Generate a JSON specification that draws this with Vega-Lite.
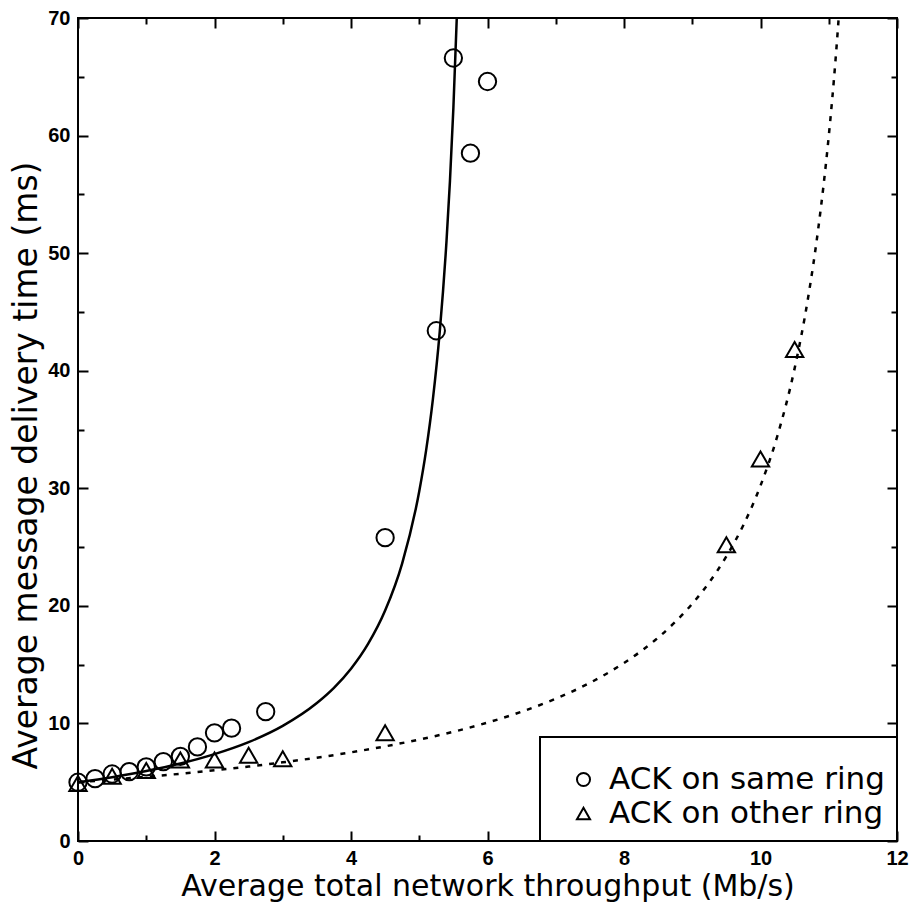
{
  "$schema": "https://vega.github.io/schema/vega-lite/v6.json",
  "width": 819,
  "height": 823,
  "autosize": {"type": "none"},
  "padding": {"left": 78, "top": 18, "right": 15, "bottom": 66},
  "background": "white",
  "config": {
    "view": {"stroke": "black", "strokeWidth": 2},
    "axis": {"grid": false, "domain": false, "tickColor": "black", "tickWidth": 2, "labelColor": "black", "titleColor": "black"},
    "legend": {"strokeWidth": 2}
  },
  "datasets": {
    "points": [
      {"x": 0, "y": 5.0, "series": "ACK on same ring"},
      {"x": 0.25, "y": 5.3, "series": "ACK on same ring"},
      {"x": 0.5, "y": 5.7, "series": "ACK on same ring"},
      {"x": 0.75, "y": 5.9, "series": "ACK on same ring"},
      {"x": 1.0, "y": 6.3, "series": "ACK on same ring"},
      {"x": 1.25, "y": 6.75, "series": "ACK on same ring"},
      {"x": 1.5, "y": 7.2, "series": "ACK on same ring"},
      {"x": 1.75, "y": 8.0, "series": "ACK on same ring"},
      {"x": 2.0, "y": 9.2, "series": "ACK on same ring"},
      {"x": 2.25, "y": 9.6, "series": "ACK on same ring"},
      {"x": 2.75, "y": 11.0, "series": "ACK on same ring"},
      {"x": 4.5, "y": 25.8, "series": "ACK on same ring"},
      {"x": 5.25, "y": 43.4, "series": "ACK on same ring"},
      {"x": 5.5, "y": 66.6, "series": "ACK on same ring"},
      {"x": 5.75, "y": 58.5, "series": "ACK on same ring"},
      {"x": 6.0, "y": 64.6, "series": "ACK on same ring"},
      {"x": 0, "y": 4.9, "series": "ACK on other ring"},
      {"x": 0.5, "y": 5.5, "series": "ACK on other ring"},
      {"x": 1.0, "y": 6.0, "series": "ACK on other ring"},
      {"x": 1.5, "y": 6.9, "series": "ACK on other ring"},
      {"x": 2.0, "y": 6.9, "series": "ACK on other ring"},
      {"x": 2.5, "y": 7.3, "series": "ACK on other ring"},
      {"x": 3.0, "y": 7.0, "series": "ACK on other ring"},
      {"x": 4.5, "y": 9.2, "series": "ACK on other ring"},
      {"x": 9.5, "y": 25.2, "series": "ACK on other ring"},
      {"x": 10.0, "y": 32.5, "series": "ACK on other ring"},
      {"x": 10.5, "y": 41.8, "series": "ACK on other ring"}
    ],
    "curveSame": [
      {"x": 0, "y": 5.0},
      {"x": 0.5, "y": 5.43},
      {"x": 1.0, "y": 5.95},
      {"x": 1.5, "y": 6.59},
      {"x": 2.0, "y": 7.39},
      {"x": 2.5, "y": 8.41},
      {"x": 3.0, "y": 9.79},
      {"x": 3.5, "y": 11.73},
      {"x": 3.75, "y": 13.02},
      {"x": 4.0, "y": 14.65},
      {"x": 4.25, "y": 16.76},
      {"x": 4.5, "y": 19.6},
      {"x": 4.75, "y": 23.62},
      {"x": 5.0, "y": 29.74},
      {"x": 5.1, "y": 33.2},
      {"x": 5.2, "y": 37.58},
      {"x": 5.3, "y": 43.3},
      {"x": 5.4, "y": 51.09},
      {"x": 5.45, "y": 56.15},
      {"x": 5.5, "y": 62.33},
      {"x": 5.55, "y": 70.04},
      {"x": 5.57, "y": 73.69}
    ],
    "curveOther": [
      {"x": 0, "y": 5.0},
      {"x": 0.5, "y": 5.22},
      {"x": 1.0, "y": 5.46},
      {"x": 1.5, "y": 5.72},
      {"x": 2.0, "y": 6.01},
      {"x": 2.5, "y": 6.33},
      {"x": 3.0, "y": 6.69},
      {"x": 3.5, "y": 7.09},
      {"x": 4.0, "y": 7.54},
      {"x": 4.5, "y": 8.05},
      {"x": 5.0, "y": 8.63},
      {"x": 5.5, "y": 9.29},
      {"x": 6.0, "y": 10.07},
      {"x": 6.5, "y": 11.0},
      {"x": 7.0, "y": 12.1},
      {"x": 7.5, "y": 13.45},
      {"x": 8.0, "y": 15.14},
      {"x": 8.25, "y": 16.15},
      {"x": 8.5, "y": 17.3},
      {"x": 8.75, "y": 18.63},
      {"x": 9.0, "y": 20.18},
      {"x": 9.25, "y": 22.01},
      {"x": 9.5, "y": 24.21},
      {"x": 9.75, "y": 26.88},
      {"x": 10.0, "y": 30.22},
      {"x": 10.25, "y": 34.51},
      {"x": 10.5, "y": 40.2},
      {"x": 10.7, "y": 46.3},
      {"x": 10.85, "y": 52.25},
      {"x": 11.0, "y": 59.95},
      {"x": 11.1, "y": 66.48},
      {"x": 11.18, "y": 72.82}
    ]
  },
  "resolve": {"axis": {"x": "independent", "y": "independent"}},
  "layer": [
    {
      "data": {"name": "curveSame"},
      "mark": {"type": "line", "clip": true, "color": "black", "strokeWidth": 2.5, "interpolate": "monotone"},
      "encoding": {
        "x": {"field": "x", "type": "quantitative", "scale": {"domain": [0, 12], "nice": false, "zero": false},
          "axis": {"orient": "bottom", "values": [0, 2, 4, 6, 8, 10, 12], "ticks": false, "labelFont": "Liberation Sans", "labelFontWeight": "bold", "labelFontSize": 20, "labelPadding": 7, "labelFlush": false,
            "title": "Average total network throughput (Mb/s)", "titleFont": "DejaVu Sans", "titleFontSize": 30, "titleFontWeight": "normal", "titleBaseline": "alphabetic", "titleY": 54}},
        "y": {"field": "y", "type": "quantitative", "scale": {"domain": [0, 70], "nice": false, "zero": false},
          "axis": {"orient": "left", "values": [0, 10, 20, 30, 40, 50, 60, 70], "ticks": false, "labelFont": "Liberation Sans", "labelFontWeight": "bold", "labelFontSize": 20, "labelPadding": 8, "labelFlush": false,
            "title": "Average message delivery time (ms)", "titleFont": "DejaVu Sans", "titleFontSize": 33, "titleFontWeight": "normal", "titleAngle": -90, "titleAlign": "center", "titleBaseline": "alphabetic", "titleX": -42, "titleY": 447}}
      }
    },
    {
      "data": {"name": "curveOther"},
      "mark": {"type": "line", "clip": true, "color": "black", "strokeWidth": 2.5, "strokeDash": [5, 7], "interpolate": "monotone"},
      "encoding": {
        "x": {"field": "x", "type": "quantitative", "axis": null},
        "y": {"field": "y", "type": "quantitative", "axis": null}
      }
    },
    {
      "data": {"name": "points"},
      "mark": {"type": "point", "filled": false, "color": "black", "strokeWidth": 2, "size": 300, "opacity": 1},
      "encoding": {
        "x": {"field": "x", "type": "quantitative",
          "axis": {"orient": "bottom", "values": [0, 2, 4, 6, 8, 10, 12], "offset": -10, "tickSize": 10, "labels": false, "title": null}},
        "y": {"field": "y", "type": "quantitative",
          "axis": {"orient": "left", "values": [0, 10, 20, 30, 40, 50, 60, 70], "offset": -10, "tickSize": 10, "labels": false, "title": null}},
        "shape": {"field": "series", "type": "nominal", "scale": {"domain": ["ACK on same ring", "ACK on other ring"], "range": ["circle", "triangle-up"]},
          "legend": {"title": " ", "titleFontSize": 12, "titlePadding": 3, "orient": "bottom-right", "offset": 0, "padding": 12, "strokeColor": "black", "fillColor": "white",
            "labelFont": "DejaVu Sans", "labelFontSize": 31, "labelColor": "black", "labelLimit": 600, "labelOffset": 10, "symbolOffset": 16, "symbolSize": 170, "symbolStrokeColor": "black", "symbolStrokeWidth": 2, "symbolFillColor": "transparent", "symbolOpacity": 1, "rowPadding": 2}}
      }
    },
    {
      "data": {"name": "points"},
      "mark": {"type": "point", "opacity": 0},
      "encoding": {
        "x": {"field": "x", "type": "quantitative",
          "axis": {"orient": "bottom", "values": [1, 3, 5, 7, 9, 11], "offset": -6, "tickSize": 6, "labels": false, "title": null}},
        "y": {"field": "y", "type": "quantitative",
          "axis": {"orient": "left", "values": [5, 15, 25, 35, 45, 55, 65], "offset": -6, "tickSize": 6, "labels": false, "title": null}}
      }
    },
    {
      "data": {"name": "points"},
      "mark": {"type": "point", "opacity": 0},
      "encoding": {
        "x": {"field": "x", "type": "quantitative",
          "axis": {"orient": "top", "values": [0, 2, 4, 6, 8, 10, 12], "offset": -10, "tickSize": 10, "labels": false, "title": null}},
        "y": {"field": "y", "type": "quantitative",
          "axis": {"orient": "right", "values": [0, 10, 20, 30, 40, 50, 60, 70], "offset": -10, "tickSize": 10, "labels": false, "title": null}}
      }
    },
    {
      "data": {"name": "points"},
      "mark": {"type": "point", "opacity": 0},
      "encoding": {
        "x": {"field": "x", "type": "quantitative",
          "axis": {"orient": "top", "values": [1, 3, 5, 7, 9, 11], "offset": -6, "tickSize": 6, "labels": false, "title": null}},
        "y": {"field": "y", "type": "quantitative",
          "axis": {"orient": "right", "values": [5, 15, 25, 35, 45, 55, 65], "offset": -6, "tickSize": 6, "labels": false, "title": null}}
      }
    }
  ]
}
